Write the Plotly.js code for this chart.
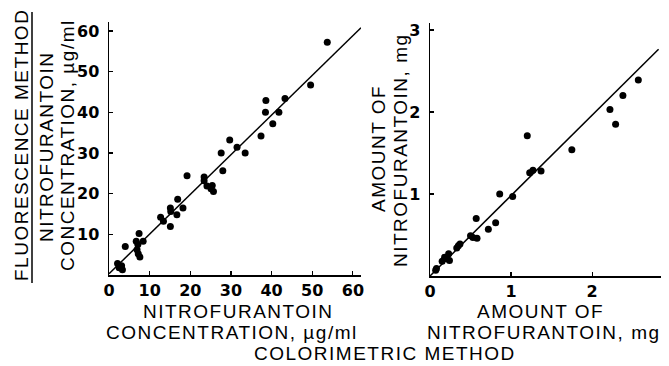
<!DOCTYPE html>
<html>
<head>
<meta charset="utf-8">
<script src="https://cdn.plot.ly/plotly-3.0.1.min.js"></script>
<style>
html,body{margin:0;padding:0;background:#fff;}
#chart{width:669px;height:366px;}
text.annotation-text{letter-spacing:1.5px;}
</style>
</head>
<body>
<div id="chart"></div>
<script>
// Left panel: concentration, µg/ml (colorimetric x, fluorescence y)
const concColor = [53.7, 49.6, 38.6, 43.3, 38.5, 41.8, 40.3, 37.4, 29.7, 31.5, 27.6, 33.5, 28.0, 19.2, 23.4, 23.4, 24.1, 25.4, 25.1, 25.7, 16.9, 18.2, 15.1, 15.2, 16.7, 12.7, 13.4, 15.1, 7.4, 6.7, 8.4, 7.1, 4.0, 6.9, 7.2, 7.6, 2.1, 3.1, 3.3, 2.5];
const concFluor = [57.2, 46.7, 42.9, 43.4, 40.0, 40.0, 37.2, 34.2, 33.2, 31.4, 30.0, 30.0, 25.6, 24.4, 24.1, 23.2, 21.9, 22.0, 21.2, 20.5, 18.6, 16.5, 16.5, 15.6, 14.8, 14.2, 13.2, 11.9, 10.2, 8.3, 8.3, 7.5, 7.0, 6.2, 5.2, 4.4, 2.8, 2.3, 1.3, 1.8];
const concFitX = [0, 62];
const concFitY = [0.3, 60.8];

// Right panel: amount, mg
const amtColor = [2.57, 2.38, 2.22, 2.29, 1.20, 1.75, 1.37, 1.27, 1.23, 0.86, 1.02, 0.81, 0.72, 0.57, 0.50, 0.58, 0.53, 0.35, 0.33, 0.37, 0.23, 0.24, 0.21, 0.15, 0.18, 0.08, 0.07];
const amtFluor = [2.39, 2.20, 2.03, 1.85, 1.71, 1.54, 1.28, 1.29, 1.26, 1.00, 0.97, 0.65, 0.57, 0.70, 0.49, 0.46, 0.47, 0.37, 0.34, 0.39, 0.27, 0.19, 0.21, 0.18, 0.23, 0.09, 0.07];
const amtFitX = [0, 2.82];
const amtFitY = [0, 2.765];

const concXTicks = [0, 10, 20, 30, 40, 50, 60];
const concYTicks = [10, 20, 30, 40, 50, 60];
const amtXTicks = [0, 1, 2];
const amtYTicks = [1, 2, 3];

const W = 669, H = 366;
const px = v => v / W;
const py = v => 1 - v / H;

const titleFont = {family: 'Liberation Sans, Arial, sans-serif', size: 19, color: '#000'};
const tickFont = {family: 'DejaVu Sans, sans-serif', size: 16, color: '#000', weight: 'bold'};

const mk = {color: '#000', size: 7};
const traces = [
  {x: concColor, y: concFluor, mode: 'markers', type: 'scatter', marker: mk, xaxis: 'x', yaxis: 'y', cliponaxis: false},
  {x: concFitX, y: concFitY, mode: 'lines', type: 'scatter', line: {color: '#000', width: 1.5}, xaxis: 'x', yaxis: 'y'},
  {x: amtColor, y: amtFluor, mode: 'markers', type: 'scatter', marker: mk, xaxis: 'x2', yaxis: 'y2', cliponaxis: false},
  {x: amtFitX, y: amtFitY, mode: 'lines', type: 'scatter', line: {color: '#000', width: 1.5}, xaxis: 'x2', yaxis: 'y2'}
];

const axBase = {
  showline: true, linecolor: '#000', linewidth: 1.5, showgrid: false, zeroline: false,
  ticks: 'inside', ticklen: 4, tickwidth: 1.2, tickcolor: '#000', tickfont: tickFont,
  tickmode: 'array', fixedrange: true
};

const ann = (text, x, y, angle) => ({
  text: text, x: px(x), y: py(y), xref: 'paper', yref: 'paper', showarrow: false,
  xanchor: 'center', yanchor: 'middle', textangle: angle || 0, font: titleFont
});

const layout = {
  width: W, height: H, margin: {l: 0, r: 0, t: 0, b: 0},
  paper_bgcolor: '#fff', plot_bgcolor: '#fff', showlegend: false,
  xaxis: Object.assign({}, axBase, {domain: [px(109), px(361)], range: [0, 62], tickvals: concXTicks, ticktext: concXTicks.map(String), ticklabelstandoff: 0, anchor: 'y'}),
  yaxis: Object.assign({}, axBase, {domain: [py(275), py(22)], range: [0, 62.2], tickvals: concYTicks, ticktext: concYTicks.map(String), ticklabelstandoff: 5, anchor: 'x'}),
  xaxis2: Object.assign({}, axBase, {domain: [px(430), px(661)], range: [0, 2.85], tickvals: amtXTicks, ticktext: amtXTicks.map(String), ticklabelstandoff: 0, anchor: 'y2'}),
  yaxis2: Object.assign({}, axBase, {domain: [py(276), py(23)], range: [0, 3.085], tickvals: amtYTicks, ticktext: amtYTicks.map(String), ticklabelstandoff: 5, anchor: 'x2'}),
  annotations: [
    ann('FLUORESCENCE METHOD', 21, 145, -90),
    ann('NITROFURANTOIN', 46, 147, -90),
    ann('CONCENTRATION, \u00b5g/ml', 67, 145, -90),
    ann('AMOUNT OF', 378, 149, -90),
    ann('NITROFURANTOIN, mg', 400, 150, -90),
    ann('NITROFURANTOIN', 238, 311),
    ann('CONCENTRATION, \u00b5g/ml', 232, 332),
    ann('AMOUNT OF', 540, 311),
    ann('NITROFURANTOIN, mg', 544, 332),
    ann('COLORIMETRIC METHOD', 385, 353.5)
  ],
  shapes: [
    {type: 'line', xref: 'paper', yref: 'paper', x0: px(32), x1: px(32), y0: py(12), y1: py(283), line: {color: '#000', width: 1.5}}
  ]
};

Plotly.newPlot('chart', traces, layout, {staticPlot: true, displayModeBar: false});
</script>
</body>
</html>
